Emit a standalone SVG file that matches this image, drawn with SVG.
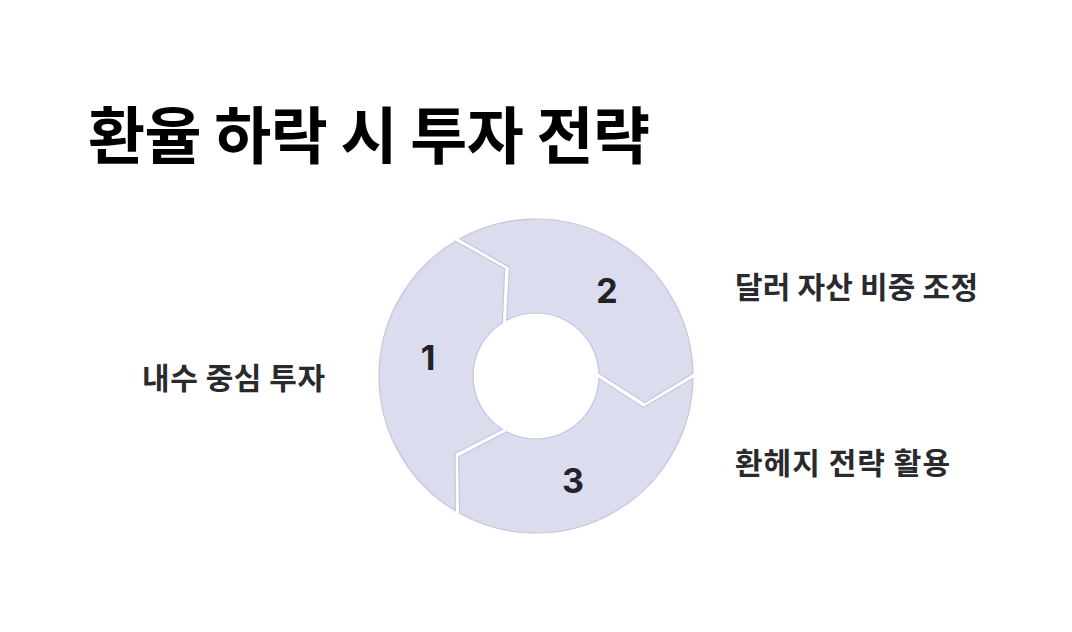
<svg xmlns="http://www.w3.org/2000/svg" width="1072" height="632" viewBox="0 0 1072 632">
<style>
.seg{fill:#dcdcef;stroke:#c5c6dc;stroke-width:1.2;stroke-linejoin:miter}
.num{font-family:Inter,"Liberation Sans",sans-serif;font-weight:700;font-size:34px;fill:#222228;text-anchor:middle}
.lbl{font-family:"Noto Sans CJK KR",sans-serif;font-weight:700;font-size:30px;fill:#2a2a2e}
.title{font-family:"Noto Sans CJK KR",sans-serif;font-weight:700;font-size:62px;fill:#000}
</style>
<rect width="1072" height="632" fill="#fff"/>
<g id="title"><text class="title" x="88" y="159" textLength="562" lengthAdjust="spacing">환율 하락 시 투자 전략</text></g>
<g id="connectors"></g>
<g id="seg1">
<path class="seg" d="M455.35 510.71 A157 157 0 0 1 455.35 241.29 L504.61 268.49 L502.36 322.73 A63 63 0 0 0 502.36 429.27 L455.06 453.4 Z"/>
<text class="num" x="428" y="370">1</text>
</g>
<g id="seg2">
<path class="seg" d="M459.67 238.81 A157 157 0 0 1 692.98 373.5 L644.81 402.57 L598.95 373.5 A63 63 0 0 0 506.69 320.23 L509.43 267.19 Z"/>
<text class="num" x="607" y="303">2</text>
</g>
<g id="seg3">
<path class="seg" d="M692.98 378.5 A157 157 0 0 1 459.67 513.19 L458.6 456.94 L506.69 431.77 A63 63 0 0 0 598.95 378.5 L643.51 407.39 Z"/>
<text class="num" x="573" y="493">3</text>
</g>
<g id="label1"><text class="lbl" x="142" y="389" textLength="183" lengthAdjust="spacing">내수 중심 투자</text></g>
<g id="label2"><text class="lbl" x="735" y="298" textLength="243" lengthAdjust="spacing">달러 자산 비중 조정</text></g>
<g id="label3"><text class="lbl" x="735" y="474" textLength="215" lengthAdjust="spacing">환헤지 전략 활용</text></g>
</svg>
